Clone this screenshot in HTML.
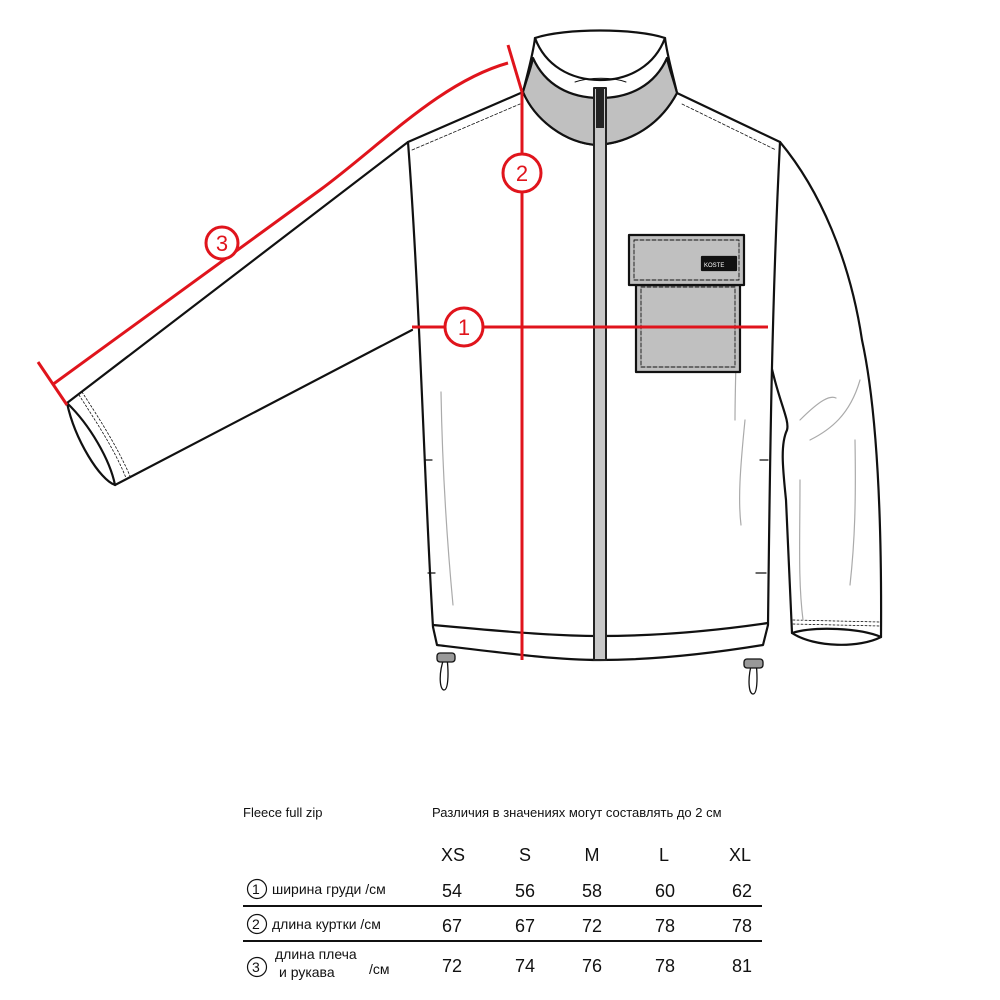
<!DOCTYPE html>
<html><head><meta charset="utf-8"><style>
html,body{margin:0;padding:0;background:#fff;}
svg{display:block;}
text{font-family:"Liberation Sans","DejaVu Sans",sans-serif;fill:#111;}
</style></head><body>
<svg width="1000" height="1000" viewBox="0 0 1000 1000" xmlns="http://www.w3.org/2000/svg">
<g fill="none" stroke="#111" stroke-width="2.2" stroke-linejoin="round" stroke-linecap="round">
  <path d="M780,142 C820,190 850,260 862,340 C875,400 882,500 881,637" fill="#fff"/>
  <path d="M770,360 C778,400 790,420 787,430 C780,445 783,470 786,500 L792,633"/>
  <path d="M792,633 C815,648 860,648 881,637 C860,628 815,626 792,633 Z" fill="#fff"/>
  <path d="M793,620 L880,622 M793,624 L880,626" stroke-width="0.8" stroke-dasharray="2,2"/>
  <path d="M408,142 L67,403 C80,440 95,470 115,485 L412,330" fill="#fff"/>
  <path d="M67,403 C75,440 100,480 115,485 C110,460 90,425 67,403 Z" fill="#fff"/>
  <path d="M79,395 C95,420 115,450 126,478 M82,392 C99,418 118,448 130,476" stroke-width="0.8" stroke-dasharray="2,2"/>
  <path d="M408,142 C420,300 425,500 433,627 L437,645 C520,655 560,660 600,660 C660,660 720,652 763,645 L768,625 C770,450 772,300 780,142 L677,93 L523,92 Z" fill="#fff"/>
  <path d="M433,625 C520,633 560,636 600,636 C660,636 720,630 768,623"/>
  <path d="M412,150 L520,104 M682,104 L776,150" stroke-width="0.8" stroke-dasharray="3,2"/>
  <path d="M425,460 L432,460 M428,573 L435,573 M760,460 L768,460 M756,573 L766,573" stroke-width="1.2"/>
  <g stroke="#aaa" stroke-width="1.2">
    <path d="M441,392 C442,450 445,520 453,605"/>
    <path d="M738,260 C738,300 735,380 735,420 M745,420 C740,470 738,500 741,525"/>
    <path d="M800,420 C820,400 830,395 836,398 M810,440 C830,430 850,415 860,380 M800,480 C800,540 798,580 803,620 M855,440 C856,500 855,540 850,585"/>
  </g>
  <path d="M523,92 C527,75 533,55 535,38 C565,28 635,28 665,38 C667,55 673,75 677,93 C660,125 630,143 597,145 C565,143 535,120 523,92 Z" fill="#fff"/>
  <path d="M523,92 C527,78 531,68 533,58 C545,85 570,98 600,98 C630,98 655,85 667,58 C669,68 673,78 677,93 C660,125 630,143 597,145 C565,143 535,120 523,92 Z" fill="#c0c0c0"/>
  <path d="M535,38 C545,65 570,80 600,80 C630,80 655,65 665,38" />
  <path d="M575,82 C590,77 612,77 626,82" stroke-width="1"/>
  <rect x="594" y="88" width="12" height="572" fill="#c8c8c8" stroke="#222" stroke-width="2"/>
  <rect x="596" y="88" width="8" height="40" fill="#222" stroke="none"/>
  <rect x="636" y="285" width="104" height="87" fill="#c0c0c0"/>
  <rect x="641" y="287" width="94" height="80" stroke-width="0.9" stroke-dasharray="4,2"/>
  <rect x="629" y="235" width="115" height="50" fill="#c0c0c0"/>
  <rect x="634" y="240" width="105" height="40" stroke-width="0.9" stroke-dasharray="4,2"/>
  <rect x="702" y="257" width="34" height="13" fill="#111"/>
  <path d="M444,658 C438,675 440,690 444,690 C448,690 449,675 447,658 M752,662 C747,680 749,694 753,694 C757,694 758,680 756,662" stroke-width="1.3"/>
  <rect x="437" y="653" width="18" height="9" rx="3" fill="#999" stroke-width="1.3"/>
  <rect x="744" y="659" width="19" height="9" rx="3" fill="#999" stroke-width="1.3"/>
</g>
<text x="704" y="267" font-size="6" style="fill:#fff">KOSTE</text>
<g stroke="#e0141c" stroke-width="3" fill="none">
  <path d="M52,385 L320,190 C380,146 440,82 508,63"/>
  <path d="M38,362 L67,405"/>
  <path d="M508,45 L522,92"/>
  <path d="M522,92 L522,660"/>
  <path d="M412,327 L768,327"/>
  <circle cx="222" cy="243" r="16" fill="#fff"/>
  <circle cx="464" cy="327" r="19" fill="#fff"/>
  <circle cx="522" cy="173" r="19" fill="#fff"/>
</g>
<g font-size="22" text-anchor="middle">
<text x="222" y="251" style="fill:#e0141c">3</text>
<text x="464" y="335" style="fill:#e0141c">1</text>
<text x="522" y="181" style="fill:#e0141c">2</text>
</g>
<text x="243" y="817" font-size="13">Fleece full zip</text>
<text x="432" y="817" font-size="13">Различия в значениях могут составлять до 2 см</text>
<g font-size="18" text-anchor="middle">
<text x="453" y="861">XS</text><text x="525" y="861">S</text><text x="592" y="861">M</text><text x="664" y="861">L</text><text x="740" y="861">XL</text>
<text x="452" y="897">54</text><text x="525" y="897">56</text><text x="592" y="897">58</text><text x="665" y="897">60</text><text x="742" y="897">62</text>
<text x="452" y="932">67</text><text x="525" y="932">67</text><text x="592" y="932">72</text><text x="665" y="932">78</text><text x="742" y="932">78</text>
<text x="452" y="972">72</text><text x="525" y="972">74</text><text x="592" y="972">76</text><text x="665" y="972">78</text><text x="742" y="972">81</text>
</g>
<g stroke="#111" fill="none">
<line x1="243" y1="906" x2="762" y2="906" stroke-width="2"/>
<line x1="243" y1="941" x2="762" y2="941" stroke-width="2"/>
<circle cx="257" cy="889" r="9.5" stroke-width="1.2"/>
<circle cx="257" cy="924" r="9.5" stroke-width="1.2"/>
<circle cx="257" cy="967" r="9.5" stroke-width="1.2"/>
</g>
<g font-size="14">
<text x="252" y="894">1</text><text x="252" y="929">2</text><text x="252" y="972">3</text>
<text x="272" y="894">ширина груди /см</text>
<text x="272" y="929">длина куртки /см</text>
<text x="275" y="959">длина плеча</text>
<text x="279" y="977">и рукава</text>
<text x="369" y="974">/см</text>
</g>
</svg>
</body></html>
